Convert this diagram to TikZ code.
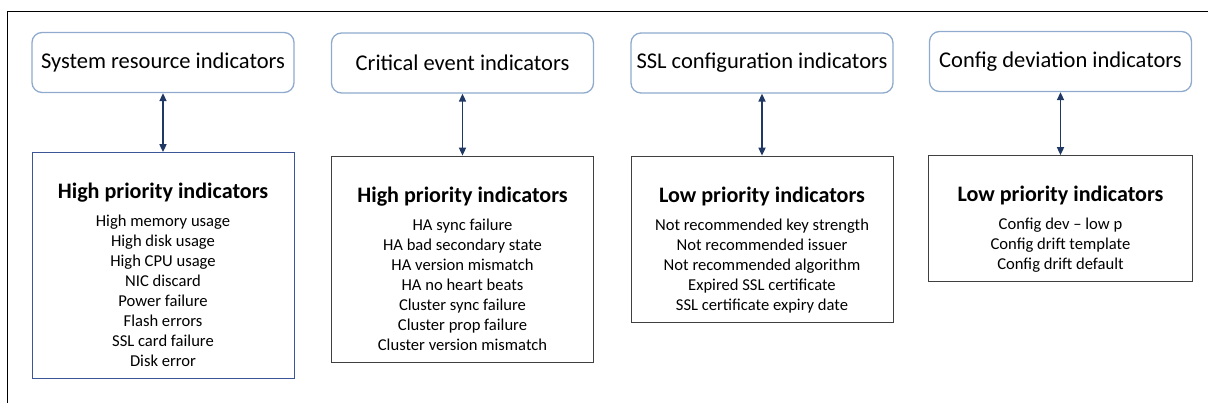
\documentclass[tikz,border=0pt]{standalone}
\usepackage{fontspec}
\setmainfont{Carlito}
\usetikzlibrary{arrows.meta,positioning}

\definecolor{headline}{RGB}{143,170,205}
\definecolor{navy}{RGB}{31,56,100}
\definecolor{hiblue}{RGB}{60,85,150}
\definecolor{boxgray}{RGB}{64,64,64}

\newcommand{\prtitle}[1]{{\fontsize{22.1}{26}\selectfont\bfseries\rule{0pt}{38pt}#1}\\[8pt]}

\begin{document}
\begin{tikzpicture}[x=1pt,y=-1pt,
      head/.style={draw=headline,line width=1.3pt,rounded corners=10pt,
        minimum width=262pt,minimum height=60pt,inner sep=0pt,
        font=\fontsize{22.5}{27}\selectfont},
      prio/.style={draw=boxgray,line width=1pt,minimum width=262pt,align=center,
        inner xsep=0pt,inner ysep=8pt,text depth=4pt,anchor=north,
        font=\fontsize{16.6}{20}\selectfont},
      hiprio/.style={prio,draw=hiblue},
      link/.style={navy,line width=1.6pt,{Triangle[length=8pt,width=7pt]}-{Triangle[length=8pt,width=7pt]}}]
    \useasboundingbox (0,0) rectangle (1208,403);
    % frame
    \draw[line width=1pt] (1208,12) -| (7,403);
    % indicator groups
    \node[head] (sysres) at (163,62.5) {System resource indicators};
    \node[head] (crit) at (462.5,63) {Critical event indicators};
    \node[head] (sslcfg) at (762,63) {SSL configuration indicators};
    \node[head] (cfgdev) at (1060.5,61.5) {Config deviation indicators};
    % priority lists
    \node[hiprio,below=59pt of sysres] (sysprio) {\prtitle{High priority indicators}
      High memory usage\\ High disk usage\\ High CPU usage\\ NIC discard\\
      Power failure\\ Flash errors\\ SSL card failure\\ Disk error};
    \node[prio,below=62pt of crit] (critprio) {\prtitle{High priority indicators}
      HA sync failure\\ HA bad secondary state\\ HA version mismatch\\
      HA no heart beats\\ Cluster sync failure\\ Cluster prop failure\\
      Cluster version mismatch};
    \node[prio,below=62pt of sslcfg] (sslprio) {\prtitle{Low priority indicators}
      Not recommended key strength\\ Not recommended issuer\\
      Not recommended algorithm\\ Expired SSL certificate\\
      SSL certificate expiry date};
    \node[prio,minimum width=264pt,below=63pt of cfgdev] (cfgprio) {\prtitle{Low priority indicators}
      Config dev -- low p\\ Config drift template\\ Config drift default};
    \draw[link] (sysres) -- (sysprio);
    \draw[link] (crit) -- (critprio);
    \draw[link] (sslcfg) -- (sslprio);
    \draw[link] (cfgdev) -- (cfgprio);
  \end{tikzpicture}
\end{document}
